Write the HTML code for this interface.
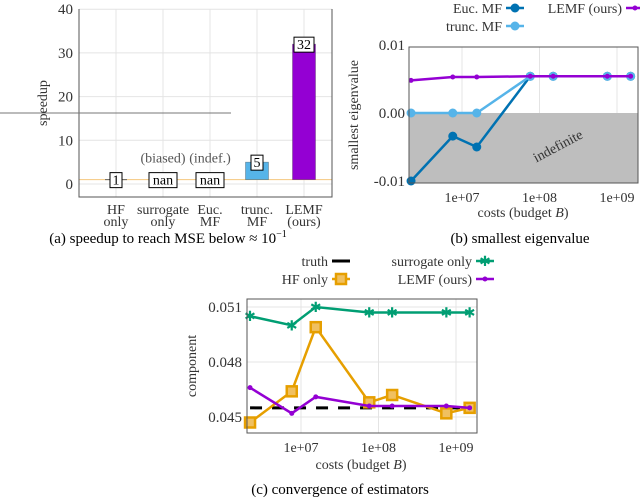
<!DOCTYPE html>
<html><head><meta charset="utf-8"><style>
body{margin:0;background:#fff}
svg{display:block;font-family:"Liberation Serif",serif}
</style></head><body>
<svg id="s" width="640" height="499" viewBox="0 0 640 499">
</svg>
<script>
// (a) speedup data
const aCats=[["HF","only"],["surrogate","only"],["Euc.","MF"],["trunc.","MF"],["LEMF","(ours)"]];
const aVals=[1,NaN,NaN,5,32];
const aLabels=["1","nan","nan","5","32"];
const aNotes=["","(biased)","(indef.)","",""];
const aColors=["#888","#000","#000","#56b4e9","#9400d3"];
const aTicks=[0,10,20,30,40];
// (b) eigenvalue data
const costs=[2.2e6,7.6e6,1.55e7,7.6e7,1.5e8,7.5e8,1.5e9];
const eigEuc=[-0.01,-0.0034,-0.005,0.0054,0.0054,0.0054,0.0054];
const eigTrunc=[0,0,0,0.0054,0.0054,0.0054,0.0054];
const eigLemf=[0.0048,0.0053,0.0053,0.0054,0.0054,0.0054,0.0054];
const bTicks=[-0.01,0,0.01];
const xTicks=[1e7,1e8,1e9];
const xTickLabels=["1e+07","1e+08","1e+09"];
// (c) convergence data
const cTruth=0.0455;
const cSurr=[0.0505,0.0500,0.0510,0.0507,0.0507,0.0507,0.0507];
const cHF=[0.0447,0.0464,0.0499,0.0458,0.0462,0.0452,0.0455];
const cLemf=[0.0466,0.0452,0.0461,0.0456,0.0456,0.0456,0.0455];
const cTicks=[0.045,0.048,0.051];
const cTickLabels=["0.045","0.048","0.051"];

const S=document.getElementById('s');
const NS="http://www.w3.org/2000/svg";
function el(tag,attrs,parent,txt){const e=document.createElementNS(NS,tag);for(const k in attrs)e.setAttribute(k,attrs[k]);if(txt!==undefined)e.textContent=txt;(parent||S).appendChild(e);return e;}
function txt(x,y,s,opts,name){const t=el('text',Object.assign({x:x,y:y,'font-size':14,fill:'#333','text-anchor':'middle'},opts||{}),S,s);

return t;}

// ---------- panel (a)
const aL=79,aR=332,aT=9,aB=197;
const ay=v=>184-v*4.37;
const ax=i=>116+i*47;
aTicks.forEach(v=>{
  const g=el('line',{x1:aL,x2:aR,y1:ay(v),y2:ay(v),stroke:'#e4e4e4'});
  
  
  txt(aL-6,ay(v)+5,String(v),{'text-anchor':'end','font-size':15},'a-y-tick');
});
aCats.forEach((c,i)=>{
  const g=el('line',{x1:ax(i),x2:ax(i),y1:aT,y2:aB,stroke:'#e4e4e4'});
  
  
  txt(ax(i),214,c[0],{},'a-x-tick');
  txt(ax(i),226,c[1],{},'a-x-tick');
});
let ln=el('line',{x1:aL,x2:aR,y1:ay(1),y2:ay(1),stroke:'#f5c77e','stroke-width':1});


aVals.forEach((v,i)=>{
  if(!isNaN(v)&&v>1){
    const r=el('rect',{x:ax(i)-11.5,y:ay(v),width:23,height:ay(1)-ay(v),fill:aColors[i],stroke:'#333','stroke-width':0.6,'stroke-opacity':0.5});
    
    
  }
  if(i===0){const h=el('line',{x1:ax(i)-11,x2:ax(i)+11,y1:ay(1),y2:ay(1),stroke:'#666'});
    
    }
  const lv=isNaN(v)?1:v;
  const w=aLabels[i].length*8+4;
  const b=el('rect',{x:ax(i)-w/2,y:ay(lv)-7,width:w,height:15,fill:'#fff',stroke:'#000','stroke-width':1});
  
  
  txt(ax(i),ay(lv)+5,aLabels[i],{fill:'#000','font-size':14},'value-label');
  if(aNotes[i])txt(ax(i),ay(lv)-17,aNotes[i],{'font-size':14,fill:'#555'},'note-label');
});
let ax1=el('path',{d:`M${aL} ${aT}V${aB}H${aR}V${aT}`,fill:'none',stroke:'#555','stroke-width':1});


let sl=el('line',{x1:0,x2:231,y1:113,y2:113,stroke:'#777','stroke-width':1});


txt(47,103,'speedup',{transform:'rotate(-90 47 103)'},'a-y-title');
const ca=txt(168,243,'(a) speedup to reach MSE below ≈ 10',{fill:'#000','font-size':15},'caption-a');
el('tspan',{'font-size':10,dy:-6},ca,'−1');

// ---------- panel (b)
const bL=409,bR=638,bT=47,bB=183;
const lx=(c,off)=>off+ (Math.log10(c)-7)*77.5;
const bx=c=>lx(c,462);
const by=v=>113-v*6800;
let gr=el('rect',{x:bL,y:by(0),width:bR-bL,height:bB-by(0),fill:'#bebebe'});


xTicks.forEach((t,i)=>{
  const g=el('line',{x1:bx(t),x2:bx(t),y1:bT,y2:by(0),stroke:'#e4e4e4'});
  
  
  txt(bx(t),202,xTickLabels[i],{},'b-x-tick');
});
bTicks.forEach(v=>{
  txt(bL-4,by(v)+5,v===0?'0.00':(v>0?'0.01':'-0.01'),{'text-anchor':'end','font-size':15},'b-y-tick');
});
txt(560,150,'indefinite',{transform:'rotate(-28 560 150)',fill:'#333'},'indefinite-label');
function series(xf,yf,vals,color,name,marker,w){
  const p=el('polyline',{points:vals.map((v,i)=>xf(costs[i])+','+yf(v)).join(' '),fill:'none',stroke:color,'stroke-width':w||2.5});
  
  
  vals.forEach((v,i)=>drawMarker(xf(costs[i]),yf(v),color,marker,name));
}
function drawMarker(x,y,color,marker,name){
  let m;
  if(marker==='circle')m=el('circle',{cx:x,cy:y,r:4.5,fill:color});
  else if(marker==='square')m=el('rect',{x:x-5,y:y-5,width:10,height:10,fill:'#f0c060',stroke:color,'stroke-width':2.5});
  else if(marker==='star')m=el('text',{x:x,y:y+5,'font-size':14,'text-anchor':'middle',fill:color,'font-family':'DejaVu Sans'},S,'✱');
  else m=el('circle',{cx:x,cy:y,r:2.5,fill:color});
  
  
}
series(bx,by,eigEuc,'#0072b2','euc-mf','circle');
series(bx,by,eigTrunc,'#56b4e9','trunc-mf','circle');
series(bx,by,eigLemf,'#9400d3','lemf','plus');
let bax=el('rect',{x:bL,y:bT,width:bR-bL,height:bB-bT,fill:'none',stroke:'#555'});


txt(358,115,'smallest eigenvalue',{transform:'rotate(-90 358 115)'},'b-y-title');
const bt=txt(523,217,'costs (budget ',{},'b-x-title');
el('tspan',{'font-style':'italic'},bt,'B');
el('tspan',{},bt,')');
txt(520,243,'(b) smallest eigenvalue',{fill:'#000','font-size':15},'caption-b');
function legend(x,y,label,color,marker,name){
  txt(x-8,y+5,label,{'text-anchor':'end'},name+'-legend-label');
  const l=el('line',{x1:x-4,x2:x+14,y1:y,y2:y,stroke:color,'stroke-width':marker==='dash'?3:2.5});
  
  
  if(marker!=='dash')drawMarker(x+5,y,color,marker,name+'-legend');
}
legend(510,8,'Euc. MF','#0072b2','circle','euc-mf');
legend(510,26,'trunc. MF','#56b4e9','circle','trunc-mf');
legend(630,8,'LEMF (ours)','#9400d3','plus','lemf');

// ---------- panel (c)
const cL=247,cR=477,cT=299,cB=433;
const cx=c=>lx(c,301);
const cy=v=>417-(v-0.045)*55/0.003;
xTicks.forEach((t,i)=>{
  const g=el('line',{x1:cx(t),x2:cx(t),y1:cT,y2:cB,stroke:'#e4e4e4'});
  
  
  txt(cx(t),452,xTickLabels[i],{},'c-x-tick');
});
cTicks.forEach((v,i)=>{
  const g=el('line',{x1:cL,x2:cR,y1:cy(v),y2:cy(v),stroke:'#e4e4e4'});
  
  
  txt(cL-5,cy(v)+5,cTickLabels[i],{'text-anchor':'end','font-size':15},'c-y-tick');
});
let tl=el('line',{x1:cx(costs[0]),x2:cx(costs[costs.length-1]),y1:cy(cTruth),y2:cy(cTruth),stroke:'#000','stroke-width':3,'stroke-dasharray':'12 10'});


series(cx,cy,cSurr,'#009e73','surrogate','star');
series(cx,cy,cHF,'#e69f00','hf-only','square');
series(cx,cy,cLemf,'#9400d3','lemf-c','plus');
let cax=el('rect',{x:cL,y:cT,width:cR-cL,height:cB-cT,fill:'none',stroke:'#555'});


txt(196,366,'component',{transform:'rotate(-90 196 366)'},'c-y-title');
const ct=txt(361,469,'costs (budget ',{},'c-x-title');
el('tspan',{'font-style':'italic'},ct,'B');
el('tspan',{},ct,')');
txt(340,494,'(c) convergence of estimators',{fill:'#000','font-size':15},'caption-c');
legend(336,261,'truth','#000','dash','truth');
legend(336,279,'HF only','#e69f00','square','hf-only');
legend(480,261,'surrogate only','#009e73','star','surrogate');
legend(480,279,'LEMF (ours)','#9400d3','plus','lemf-c');
</script>
</body></html>
